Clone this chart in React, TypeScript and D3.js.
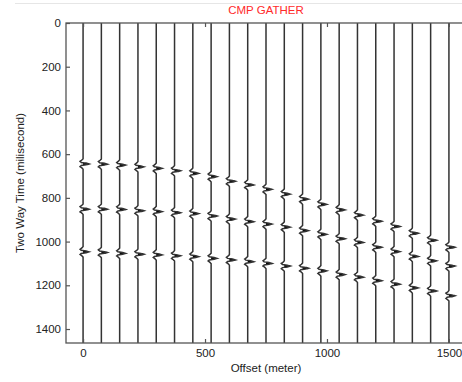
import * as d3 from "d3";
import React, { useRef, useEffect } from "react";

// trace offsets (m)
const offsets = [
  0, 75, 150, 225, 300, 375, 450, 525, 600, 675, 750, 825, 900, 975, 1050,
  1125, 1200, 1275, 1350, 1425, 1500,
];
// picked two-way times of the three reflections on each trace (ms)
const event1 = [
  645, 646, 650, 658, 665, 676, 688, 703, 724, 741, 761, 783, 806, 830, 855,
  879, 907, 931, 962, 994, 1026,
];
const event2 = [
  852, 852, 853, 859, 863, 868, 872, 883, 897, 909, 920, 934, 950, 967, 987,
  1004, 1026, 1046, 1068, 1088, 1112,
];
const event3 = [
  1047, 1050, 1054, 1058, 1061, 1065, 1069, 1077, 1084, 1092, 1100, 1112, 1122,
  1134, 1151, 1163, 1179, 1195, 1212, 1226, 1248,
];
// wavelet shape: lag (ms) and relative amplitude
const waveletLag = [-24, -18, -12, -7, -4, 0, 4, 7, 12, 18, 24];
const waveletAmp = [0, -0.2, -0.5, -0.3, 0.5, 1, 0.5, -0.3, -0.5, -0.2, 0];

const xTicks = [0, 500, 1000, 1500];
const yTicks = [0, 200, 400, 600, 800, 1000, 1200, 1400];

const font = "Arial, 'Liberation Sans', sans-serif";

function App() {
  const ref = useRef(null);
  const width = 462;
  const height = 382;
  const margin = { top: 23, right: -4, bottom: 39, left: 66 };

  useEffect(() => {
    const svg = d3.select(ref.current);
    svg.selectAll("*").remove();

    const x = d3
      .scaleLinear()
      .domain([-70, 1570])
      .range([margin.left, width - margin.right]);
    const y = d3
      .scaleLinear()
      .domain([0, 1464])
      .range([margin.top, height - margin.bottom]);

    const wavelet = d3
      .scaleLinear()
      .domain(waveletLag)
      .range(waveletAmp)
      .clamp(true);
    const ampPx = 6;
    const samples = d3.range(0, 1465, 1);
    const events = [event1, event2, event3];

    // faint line at top of page
    svg
      .append("line")
      .attr("x1", 15)
      .attr("x2", width)
      .attr("y1", 3.5)
      .attr("y2", 3.5)
      .attr("stroke", "#e6e6e6")
      .attr("stroke-width", 1);

    svg
      .append("defs")
      .append("clipPath")
      .attr("id", "plot-clip")
      .append("rect")
      .attr("x", margin.left)
      .attr("y", margin.top)
      .attr("width", x.range()[1] - margin.left)
      .attr("height", y.range()[1] - margin.top);

    const plot = svg.append("g").attr("clip-path", "url(#plot-clip)");

    offsets.forEach((off, i) => {
      const x0 = x(off);
      const pts = samples.map((t) => ({
        t,
        a: d3.sum(events, (ev) => wavelet(t - ev[i])),
      }));

      const area = d3
        .area()
        .y((d) => y(d.t))
        .x0(x0)
        .x1((d) => x0 + Math.max(0, d.a) * ampPx);
      const line = d3
        .line()
        .x((d) => x0 + d.a * ampPx)
        .y((d) => y(d.t));

      plot
        .append("path")
        .attr("d", area(pts))
        .attr("fill", "#000");
      plot
        .append("path")
        .attr("d", line(pts))
        .attr("fill", "none")
        .attr("stroke", "#333")
        .attr("stroke-width", 1.5);
    });

    // axes, ticks inward (MATLAB style)
    const axisStyle = (g) => {
      g.select(".domain").remove();
      g.selectAll(".tick line").attr("stroke", "#555").attr("stroke-width", 1.2);
      g.selectAll("text")
        .attr("fill", "#222")
        .style("font-family", font)
        .style("font-size", "11.5px");
    };
    const fmt = d3.format("d");

    svg
      .append("g")
      .attr("transform", `translate(${margin.left},0)`)
      .call(d3.axisLeft(y).tickValues(yTicks).tickFormat(fmt).tickSizeInner(-4).tickSizeOuter(0).tickPadding(5))
      .call(axisStyle);
    svg
      .append("g")
      .attr("transform", `translate(${x.range()[1]},0)`)
      .call(d3.axisRight(y).tickValues(yTicks).tickSizeInner(-4).tickSizeOuter(0).tickFormat(() => ""))
      .call(axisStyle);
    svg
      .append("g")
      .attr("transform", `translate(0,${y.range()[1]})`)
      .call(d3.axisBottom(x).tickValues(xTicks).tickFormat(fmt).tickSizeInner(-4).tickSizeOuter(0).tickPadding(6))
      .call(axisStyle);
    svg
      .append("g")
      .attr("transform", `translate(0,${margin.top})`)
      .call(d3.axisTop(x).tickValues(xTicks).tickSizeInner(-4).tickSizeOuter(0).tickFormat(() => ""))
      .call(axisStyle);

    // frame
    svg
      .append("rect")
      .attr("x", margin.left)
      .attr("y", margin.top)
      .attr("width", x.range()[1] - margin.left)
      .attr("height", y.range()[1] - margin.top)
      .attr("fill", "none")
      .attr("stroke", "#555")
      .attr("stroke-width", 1.3);

    // title and labels
    const midX = (margin.left + x.range()[1]) / 2;
    svg
      .append("text")
      .attr("x", midX)
      .attr("y", 14)
      .attr("text-anchor", "middle")
      .attr("fill", "#ff2a2a")
      .style("font-family", font)
      .style("font-size", "11.5px")
      .text("CMP GATHER");
    svg
      .append("text")
      .attr("x", midX)
      .attr("y", 372)
      .attr("text-anchor", "middle")
      .attr("fill", "#222")
      .style("font-family", font)
      .style("font-size", "11.5px")
      .text("Offset (meter)");
    svg
      .append("text")
      .attr("transform", `translate(24,${(margin.top + y.range()[1]) / 2}) rotate(-90)`)
      .attr("text-anchor", "middle")
      .attr("fill", "#222")
      .style("font-family", font)
      .style("font-size", "11.5px")
      .text("Two Way Time (milisecond)");
  }, []);

  return (
    <svg
      ref={ref}
      width={width}
      height={height}
      style={{ position: "absolute", left: 0, top: 0, background: "#fff" }}
    ></svg>
  );
}

export default App;
